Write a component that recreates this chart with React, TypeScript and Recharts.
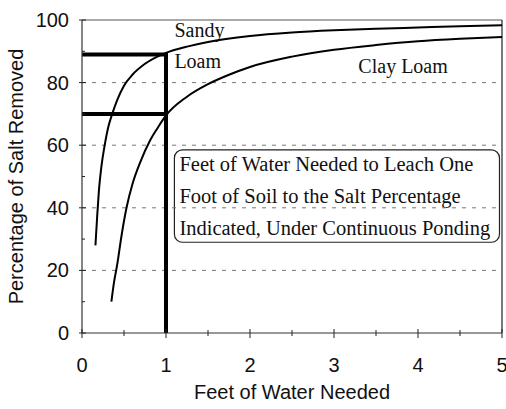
import React from "react"
import {
  LineChart,
  Line,
  XAxis,
  YAxis,
  ReferenceLine,
  ReferenceArea,
  ReferenceDot,
  Label,
} from "recharts"

// Sandy loam curve (feet of water, % salt removed)
const sandyX = [0.16, 0.18, 0.2, 0.23, 0.27, 0.31, 0.36, 0.42, 0.5, 0.6, 0.75, 1.0, 1.25, 1.5, 2.0, 2.5, 3.0, 3.5, 4.0, 4.5, 5.0]
const sandyY = [28, 37, 45, 53, 60, 65.5, 70, 74.5, 79, 82.5, 86, 89.5, 91.5, 93, 94.9, 96, 96.7, 97.2, 97.6, 98, 98.3]

// Clay loam curve
const clayX = [0.35, 0.38, 0.42, 0.47, 0.53, 0.6, 0.7, 0.81, 0.9, 1.0, 1.25, 1.5, 1.75, 2.0, 2.5, 3.0, 3.5, 4.0, 4.5, 5.0]
const clayY = [10, 16, 22, 31, 40, 47.5, 55, 61.5, 65.5, 69.5, 75.5, 79.5, 82.5, 85, 88.3, 90.5, 92, 93.2, 94, 94.6]

// thick guide lines at 1 ft of water
const guideSandyX = [0, 1, 1]
const guideSandyY = [89, 89, 0]
const guideClayX = [0, 1]
const guideClayY = [70, 70]

const xTicks = [0, 0.5, 1, 1.5, 2, 2.5, 3, 3.5, 4, 4.5, 5]
const yTicks = [0, 10, 20, 30, 40, 50, 60, 70, 80, 90, 100]
const gridLines = [20, 40, 60, 80]

const boxLines = [
  "Feet of Water Needed to Leach One",
  "Foot of Soil to the Salt Percentage",
  "Indicated, Under Continuous Ponding",
]

const zip = (xs: number[], ys: number[]) => xs.map((x, i) => ({ x, y: ys[i] }))

const sandy = zip(sandyX, sandyY)
const clay = zip(clayX, clayY)
const guideSandy = zip(guideSandyX, guideSandyY)
const guideClay = zip(guideClayX, guideClayY)

const sans = "'Liberation Sans', Arial, sans-serif"
const serif = "'Liberation Serif', 'Times New Roman', serif"

function XTick(props: any) {
  const { x, y, payload } = props
  const major = Number.isInteger(payload.value)
  return (
    <g>
      <line x1={x} x2={x} y1={major ? y - 4 : y - 3} y2={major ? y + 5 : y + 3} stroke="#222" strokeWidth={1} />
      {major && (
        <text x={x} y={y + 32} textAnchor="middle" dominantBaseline="central" fontFamily={sans} fontSize={20} fill="#111">
          {payload.value}
        </text>
      )}
    </g>
  )
}

function YTick(props: any) {
  const { x, y, payload } = props
  const major = payload.value % 20 === 0
  return (
    <g>
      <line x1={major ? x - 3 : x} x2={major ? x + 4 : x + 3} y1={y} y2={y} stroke="#222" strokeWidth={1} />
      {major && (
        <text x={x - 13} y={y} textAnchor="end" dominantBaseline="central" fontFamily={sans} fontSize={20} fill="#111">
          {payload.value}
        </text>
      )}
    </g>
  )
}

function NoteBox(props: any) {
  const { x, y, width, height } = props
  return (
    <g>
      <rect x={x} y={y} width={width} height={height} rx={8} ry={8} fill="#fff" fillOpacity={0} stroke="#222" strokeWidth={1.2} />
      {boxLines.map((t, i) => (
        <text key={i} x={x + 5} y={y + 14 + i * 32} dominantBaseline="central" fontFamily={serif} fontSize={20.5} fill="#111">
          {t}
        </text>
      ))}
    </g>
  )
}

const textAt = (value: string) => (p: any) => (
  <text x={p.cx} y={p.cy} dominantBaseline="central" fontFamily={serif} fontSize={20} fill="#111">
    {value}
  </text>
)

export default function App() {
  return (
    <div style={{ position: "absolute", left: 0, top: 0, background: "#fff" }}>
      <LineChart width={506} height={409} margin={{ top: 20, right: 4, left: 0, bottom: 0 }}>
        <XAxis
          dataKey="x"
          type="number"
          domain={[0, 5]}
          ticks={xTicks}
          interval={0}
          allowDuplicatedCategory={false}
          axisLine={{ stroke: "#333", strokeWidth: 1.2 }}
          tickLine={false}
          tickSize={0}
          tickMargin={0}
          tick={<XTick />}
          height={76}
        >
          <Label
            content={(p: any) => (
              <text x={p.viewBox.x + p.viewBox.width / 2} y={392} textAnchor="middle" dominantBaseline="central" fontFamily={sans} fontSize={20} fill="#111">
                Feet of Water Needed
              </text>
            )}
          />
        </XAxis>
        <YAxis
          dataKey="y"
          type="number"
          domain={[0, 100]}
          ticks={yTicks}
          interval={0}
          axisLine={{ stroke: "#333", strokeWidth: 1.2 }}
          tickLine={false}
          tickSize={0}
          tickMargin={0}
          tick={<YTick />}
          width={82}
        >
          <Label
            content={(p: any) => (
              <text
                x={16}
                y={p.viewBox.y + p.viewBox.height / 2}
                textAnchor="middle"
                dominantBaseline="central"
                transform={`rotate(-90 16 ${p.viewBox.y + p.viewBox.height / 2})`}
                fontFamily={sans}
                fontSize={20}
                fill="#111"
              >
                Percentage of Salt Removed
              </text>
            )}
          />
        </YAxis>

        {gridLines.map((g) => (
          <ReferenceLine key={g} y={g} stroke="#777" strokeWidth={1} strokeDasharray="4 6" />
        ))}
        <ReferenceLine y={100} stroke="#555" strokeWidth={1} />
        <ReferenceLine x={5} stroke="#222" strokeWidth={1.2} />

        <ReferenceArea x1={1.1} x2={4.97} y1={29} y2={58.5} shape={<NoteBox />} />

        <ReferenceDot x={1.1} y={96.8} r={0} shape={textAt("Sandy")} />
        <ReferenceDot x={1.1} y={86.9} r={0} shape={textAt("Loam")} />
        <ReferenceDot x={3.29} y={85.3} r={0} shape={textAt("Clay Loam")} />

        <Line data={sandy} dataKey="y" type="monotone" stroke="#000" strokeWidth={2} dot={false} isAnimationActive={false} />
        <Line data={clay} dataKey="y" type="monotone" stroke="#000" strokeWidth={2} dot={false} isAnimationActive={false} />
        <Line data={guideSandy} dataKey="y" type="linear" stroke="#000" strokeWidth={4} dot={false} isAnimationActive={false} />
        <Line data={guideClay} dataKey="y" type="linear" stroke="#000" strokeWidth={4} dot={false} isAnimationActive={false} />
      </LineChart>
    </div>
  )
}
